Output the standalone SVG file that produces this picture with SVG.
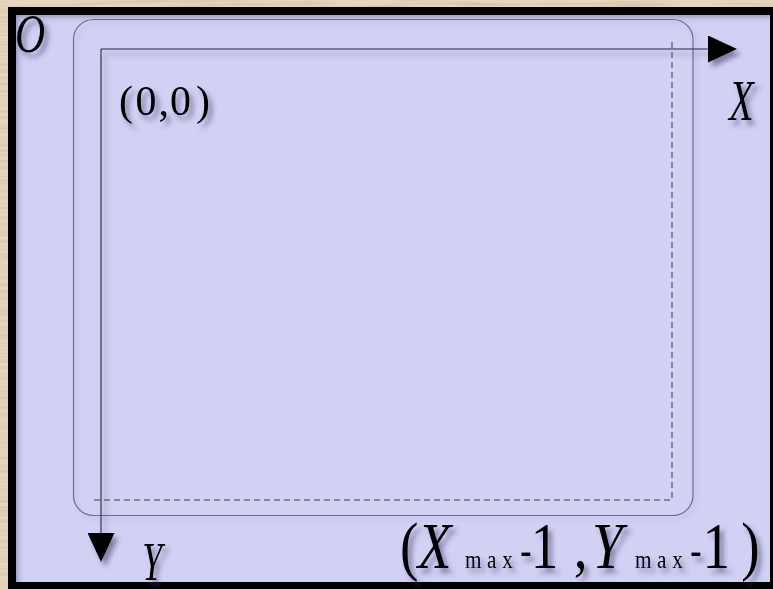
<svg xmlns="http://www.w3.org/2000/svg" width="773" height="589" viewBox="0 0 773 589">
  <defs>
    <style>
      .serif { font-family: "Liberation Serif", "Times New Roman", serif; fill: #000; }
      .ital { font-style: italic; }
      .axis { fill: none; stroke: #2a2a3a; stroke-width: 1.1; }
      .dash { fill: none; stroke: #3a3a4a; stroke-width: 1; stroke-dasharray: 6 4; }
      .frame { fill: none; stroke: #6c6c88; stroke-width: 1.2; }
    </style>
    <filter id="paper" x="0" y="0" width="100%" height="100%">
      <feTurbulence type="fractalNoise" baseFrequency="0.012 0.3" numOctaves="3" seed="4"/>
      <feColorMatrix type="matrix" values="0 0 0 0 0.55  0 0 0 0 0.47  0 0 0 0 0.33  0 0 0 1.3 -0.5"/>
    </filter>
    <filter id="shadow" x="-30%" y="-30%" width="170%" height="170%">
      <feGaussianBlur in="SourceAlpha" stdDeviation="2.5"/>
      <feOffset dx="4" dy="5" result="b"/>
      <feFlood flood-color="#3a3a6a" flood-opacity="0.55"/>
      <feComposite in2="b" operator="in" result="s"/>
      <feMerge><feMergeNode in="s"/><feMergeNode in="SourceGraphic"/></feMerge>
    </filter>
    <filter id="lineshadow" x="-5%" y="-5%" width="110%" height="110%">
      <feGaussianBlur in="SourceAlpha" stdDeviation="2"/>
      <feOffset dx="3" dy="3" result="b"/>
      <feFlood flood-color="#5a5a9a" flood-opacity="0.25"/>
      <feComposite in2="b" operator="in" result="s"/>
      <feMerge><feMergeNode in="s"/><feMergeNode in="SourceGraphic"/></feMerge>
    </filter>
    <filter id="inner" x="-5%" y="-5%" width="110%" height="110%">
      <feGaussianBlur stdDeviation="3"/>
    </filter>
    <clipPath id="panelclip">
      <rect x="16" y="15" width="754" height="567"/>
    </clipPath>
    <marker id="arrow" viewBox="0 0 29 27" refX="0" refY="13.5" markerWidth="29" markerHeight="27" markerUnits="userSpaceOnUse" orient="auto">
      <path d="M0,0 L29,13.5 L0,27 Z" fill="#000"/>
    </marker>
  </defs>

  <!-- paper background -->
  <rect x="0" y="0" width="773" height="589" fill="#e3d8bd"/>
  <rect x="0" y="0" width="773" height="589" filter="url(#paper)"/>

  <!-- panel -->
  <g id="panel">
    <rect x="12" y="11" width="762" height="575" fill="#d1d1f4" stroke="#000" stroke-width="8"/>
    <g clip-path="url(#panelclip)">
      <path d="M13,590 L13,12 L775,12" fill="none" stroke="#3a3a70" stroke-width="8" stroke-opacity="0.55" filter="url(#inner)"/>
    </g>
  </g>

  <!-- screen frame and extent -->
  <g id="screen" filter="url(#lineshadow)">
    <rect class="frame" x="73.5" y="19.5" width="619.5" height="496" rx="20" ry="20"/>
  </g>

  <g id="extent">
    <path class="dash" d="M672,42 V500 H94"/>
  </g>

  <!-- axes -->
  <g id="connectors" filter="url(#shadow)">
    <path class="axis" d="M101,49 H708" marker-end="url(#arrow)"/>
    <path class="axis" d="M101,49 V533" marker-end="url(#arrow)"/>
  </g>

  <!-- labels -->
  <g id="labels" filter="url(#shadow)">
    <g id="origin-label">
      <text class="serif ital" font-size="55" transform="scale(0.76,1)" x="19.7" y="52.4">O</text>
    </g>
    <g id="x-label">
      <text class="serif ital" font-size="58" transform="scale(0.7,1)" x="1041.3" y="120">X</text>
    </g>
    <g id="y-label">
      <text class="serif ital" font-size="55" transform="scale(0.65,1)" x="219" y="580">Y</text>
    </g>
    <g id="start-label">
      <text class="serif" font-size="42" y="115"><tspan x="119">(</tspan><tspan x="135.5">0</tspan><tspan x="158.6">,</tspan><tspan x="170">0</tspan><tspan x="196">)</tspan></text>
    </g>
    <g id="end-label">
      <text class="serif" font-size="65" transform="scale(0.85,1)" y="568"><tspan x="470.6">(</tspan><tspan x="491.4" font-style="italic">X</tspan><tspan x="547" font-size="25">m</tspan><tspan x="573" font-size="25">a</tspan><tspan x="590.8" font-size="25">x</tspan><tspan x="612.2" y="564" font-size="40" font-weight="bold">-</tspan><tspan x="624.5" y="568">1</tspan><tspan x="675">,</tspan><tspan x="696.4" font-style="italic">Y</tspan><tspan x="747" font-size="25">m</tspan><tspan x="773" font-size="25">a</tspan><tspan x="790.8" font-size="25">x</tspan><tspan x="812.2" y="564" font-size="40" font-weight="bold">-</tspan><tspan x="826.5" y="568">1</tspan><tspan x="872">)</tspan></text>
    </g>
  </g>
</svg>
